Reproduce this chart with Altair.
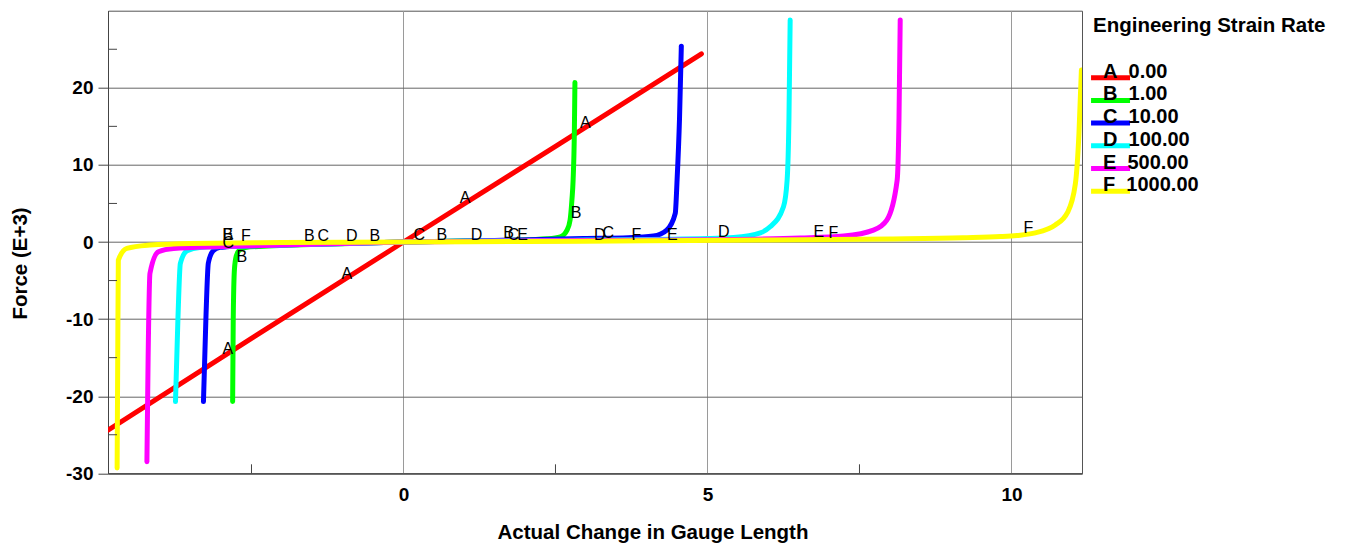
import altair as alt
import pandas as pd

# ---------------- data ----------------
letters = ["A", "B", "C", "D", "E", "F"]
rates = ["0.00", "1.00", "10.00", "100.00", "500.00", "1000.00"]
colors = ["#ff0000", "#00ff00", "#0000ff", "#00ffff", "#ff00ff", "#ffff00"]

A_x = [-4.86, -2.5, 0.0, 2.5, 4.90]
A_y = [-24.4, -12.5, 0.0, 12.4, 24.4]

B_x = [-2.81, -2.80, -2.78, -2.75, -2.70, -2.60, -2.30, -1.80, -1.00, 0.0, 1.0, 1.8, 2.36, 2.58, 2.69, 2.74, 2.77, 2.79, 2.81, 2.82]
B_y = [-20.7, -10.0, -3.5, -1.8, -1.05, -0.70, -0.55, -0.40, -0.22, 0.0, 0.12, 0.22, 0.41, 0.67, 1.54, 2.84, 5.43, 8.03, 14.0, 20.7]

C_x = [-3.29, -3.25, -3.21, -3.13, -3.02, -2.91, -2.5, -1.5, 0.0, 1.5, 2.96, 3.7, 4.11, 4.33, 4.47, 4.50, 4.54, 4.57]
C_y = [-20.7, -10.0, -2.74, -1.14, -0.70, -0.62, -0.50, -0.30, 0.0, 0.20, 0.45, 0.55, 0.77, 1.54, 3.71, 8.03, 16.0, 25.4]

D_x = [-3.75, -3.71, -3.67, -3.56, -3.35, -2.5, -1.5, 0.0, 3.0, 5.0, 5.43, 5.87, 6.03, 6.25, 6.31, 6.34, 6.36]
D_y = [-20.7, -10.0, -2.78, -1.14, -0.70, -0.50, -0.30, 0.0, 0.25, 0.45, 0.59, 1.19, 1.97, 4.57, 8.03, 16.0, 28.8]

E_x = [-4.22, -4.20, -4.17, -4.03, -3.78, -3.0, -2.0, 0.0, 3.0, 5.0, 6.53, 7.24, 7.73, 7.95, 8.12, 8.15, 8.17]
E_y = [-28.5, -15.0, -4.07, -1.27, -0.83, -0.60, -0.40, 0.0, 0.20, 0.30, 0.51, 0.77, 1.54, 2.84, 8.03, 16.0, 28.8]

F_x = [-4.71, -4.70, -4.69, -4.55, -4.17, -3.51, -2.0, 0.0, 2.0, 4.0, 6.0, 8.0, 9.2, 9.82, 10.09, 10.37, 10.72, 10.92, 11.05, 11.11, 11.15]
F_y = [-29.3, -15.0, -2.35, -0.83, -0.40, -0.18, -0.08, 0.0, 0.08, 0.15, 0.25, 0.40, 0.55, 0.70, 0.85, 1.15, 2.20, 3.80, 7.50, 14.1, 22.3]

lab_letter = ["A", "A", "A", "A",
              "B", "B", "B", "B", "B", "B", "B",
              "C", "C", "C", "C", "C",
              "D", "D", "D", "D",
              "E", "E", "E", "E",
              "F", "F", "F", "F"]
lab_x = [2.99, 1.015, -0.93, -2.89,
         2.84, 0.63, -0.47, -1.55, -2.66, -2.89, 1.73,
         0.26, -1.32, -2.88, 1.81, 3.37,
         -0.85, 1.20, 3.23, 5.27,
         -2.89, 1.96, 4.42, 6.83,
         -2.59, 3.83, 7.07, 10.28]
lab_y = [15.42, 5.65, -4.16, -13.93,
         3.71, 0.89, 0.77, 0.77, -2.0, 0.89, 1.12,
         0.89, 0.77, -0.18, 0.89, 1.12,
         0.77, 0.89, 0.89, 1.32,
         0.89, 0.89, 0.89, 1.32,
         0.77, 0.89, 1.12, 1.76]

x_major = [0, 5, 10]
x_minor = [-2.5, 2.5, 7.5]
y_major = [-30, -20, -10, 0, 10, 20]
y_minor = [-25, -15, -5, 5, 15, 25]

x_domain = [-4.86, 11.16]
y_domain = [-30, 30]

# ---------------- tables ----------------
series_xy = {"A": (A_x, A_y), "B": (B_x, B_y), "C": (C_x, C_y),
             "D": (D_x, D_y), "E": (E_x, E_y), "F": (F_x, F_y)}
rows = []
for s in letters:
    xs_, ys_ = series_xy[s]
    for i, (xv, yv) in enumerate(zip(xs_, ys_)):
        rows.append({"series": s, "order": i, "x": xv, "y": yv})
curves = pd.DataFrame(rows)
labels = pd.DataFrame({"letter": lab_letter, "x": lab_x, "y": lab_y})

W, H = 974, 462.6
FONT = "Liberation Sans"

xs = alt.Scale(domain=x_domain, nice=False, zero=False)
ys = alt.Scale(domain=y_domain, nice=False, zero=False)

x_axis = alt.Axis(values=x_major, grid=True, gridColor="#9a9a9a", ticks=False,
                  labelPadding=12, titleX=544.5, titleY=64.7,
                  titleBaseline="alphabetic", titleAlign="center")
y_axis = alt.Axis(values=y_major, grid=True, gridColor="#666666", tickSize=10,
                  tickColor="#444444", labelPadding=5, labelExpr="'' + datum.value",
                  titleX=-87.5, titleY=252.3, titleAngle=270,
                  titleBaseline="middle", titleAlign="center")

X = alt.X("x:Q", scale=xs, axis=x_axis, title="Actual Change in Gauge Length")
Y = alt.Y("y:Q", scale=ys, axis=y_axis, title="Force (E+3)")

rate_expr = "".join(f"datum.label == '{l}' ? '{r}' : " for l, r in zip(letters, rates)) + "''"
label_expr = "datum.label + '\u00a0\u00a0' + (" + rate_expr + ")"

legend = alt.Legend(
    title=None, orient="none", legendX=975, legendY=57,
    padding=0, symbolType="M-0.4,0H7.6", symbolSize=95, symbolStrokeWidth=5,
    symbolOffset=0, labelExpr=label_expr, labelFont=FONT, labelFontSize=20,
    labelFontWeight="bold", labelColor="black", labelBaseline="alphabetic",
    labelOffset=0, rowPadding=-3.3, labelLimit=300,
)

lines = alt.Chart(curves).mark_line(strokeWidth=5, strokeJoin="round",
                                    strokeCap="round", clip=True,
                                    interpolate="monotone").encode(
    x=X, y=Y,
    color=alt.Color("series:N", scale=alt.Scale(domain=letters, range=colors),
                    legend=legend),
    order="order:Q",
)

xminor = alt.Chart(pd.DataFrame({"x": x_minor})).mark_rule(
    color="#444444", strokeWidth=1).encode(x=X, y=alt.value(H), y2=alt.value(H - 9))
yminor = alt.Chart(pd.DataFrame({"y": y_minor})).mark_rule(
    color="#444444", strokeWidth=1).encode(y=Y, x=alt.value(0), x2=alt.value(9))

texts = alt.Chart(labels).mark_text(font=FONT, fontSize=16, color="black",
                                    align="center", baseline="middle").encode(
    x=X, y=Y, text="letter:N")

chart = alt.layer(lines, xminor, yminor, texts).properties(
    width=W, height=H,
    title=alt.TitleParams(
        "Engineering Strain Rate", orient="top", anchor="start", frame="group",
        baseline="alphabetic", offset=0, dx=985, dy=42, font=FONT, fontSize=20.5,
        fontWeight="bold", color="black"),
    autosize=alt.AutoSizeParams(type="none"),
    padding={"left": 108, "top": 10.7, "right": 265, "bottom": 72.7},
    background="white",
).configure_view(stroke="#555555", strokeWidth=1).configure_axis(
    domainColor="#444444", labelFont=FONT, labelFontSize=19, labelFontWeight="bold",
    labelColor="black", titleFont=FONT, titleFontSize=20.5, titleFontWeight="bold",
    titleColor="black",
)

chart.save("out.html", embed_options={"renderer": "svg", "actions": False})
